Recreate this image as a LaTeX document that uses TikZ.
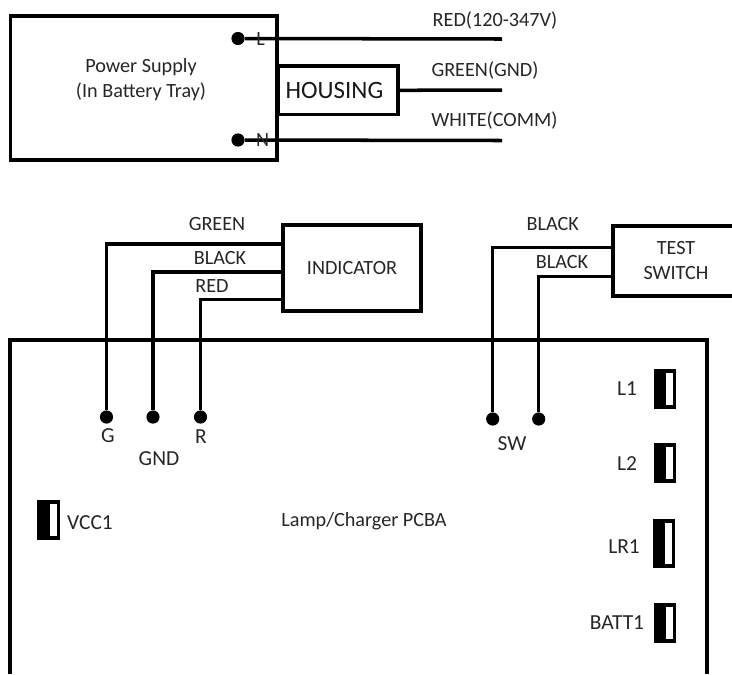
\documentclass[tikz,border=0pt]{standalone}
\usepackage{fontspec}
\setmainfont{Carlito}
\tikzset{
    box/.style={draw, line width=2.2pt, inner sep=0pt},
    wire/.style={line width=2pt},
    pad/.style={circle, fill=black, minimum size=7.5pt, inner sep=0pt},
    wire label/.style={font=\fontsize{11.5}{13.8}\selectfont, text=black!85, inner sep=0pt, align=center},
    pin label/.style={font=\fontsize{12.2}{14}\selectfont, text=black!85, inner sep=0pt},
}
\begin{document}
\begin{tikzpicture}[x=0.02cm, y=-0.02cm]
    \useasboundingbox (0,0) rectangle (732,674);

    % Power supply
    \node[box, minimum width=151.5pt, minimum height=82pt] (supply) at (143.6,88.3) {};
    \node[wire label] (supplytext) at (141,79.5) {Power Supply\\(In Battery Tray)};
    \node[box, font=\fontsize{14.2}{16}\selectfont, text=black!90, minimum width=68pt, minimum height=27.6pt] (housing) at (338,90.3) {HOUSING\kern4pt};

    % Mains wires
    \node[pad] (L) at (238,38.5) {};
    \node[pad] (N) at (238,140) {};
    \coordinate (redend) at (502,39);
    \coordinate (greenend) at (502,90);
    \coordinate (whiteend) at (502,140.5);
    \draw[wire] (L) -- (redend);
    \draw[wire] (N) -- (whiteend);
    \draw[wire] (housing.east) -- (greenend);
    \node[wire label] (Ltext) at (260.7,38.7) {L};
    \node[wire label] (Ntext) at (262.7,140) {N};
    \node[wire label] (redlabel) at (495,20.5) {RED(120-347V)};
    \node[wire label] (greenlabel) at (485,70.5) {GREEN(GND)};
    \node[wire label] (whitelabel) at (494.4,120.5) {WHITE(COMM)};

    % Indicator
    \node[box, wire label, minimum width=78.2pt, minimum height=48.6pt] (indicator) at (352,268) {INDICATOR};
    \node[pad] (G) at (106.5,417) {};
    \node[pad] (GND) at (153,417) {};
    \node[pad] (R) at (200.5,417) {};
    \draw[wire] (indicator.west |- 0,244) -| (G);
    \draw[wire] (indicator.west |- 0,272) -| (GND);
    \draw[wire] (indicator.west |- 0,299.5) -| (R);
    \node[wire label] (greenwire) at (217,224) {GREEN};
    \node[wire label] (blackwire) at (220,258) {BLACK};
    \node[wire label] (redwire) at (212,286) {RED};

    % Test switch
    \draw[line width=2.2pt] (732,226) -- (612.7,226) -- (612.7,296) -- (732,296);
    \node[wire label, minimum width=71.8pt] (switch) at (676,260.5) {TEST\\SWITCH};
    \node[pad] (SWa) at (492.7,419) {};
    \node[pad] (SWb) at (538.7,419) {};
    \draw[wire] (switch.west |- 0,247.5) -| (SWa);
    \draw[wire] (switch.west |- 0,276.5) -| (SWb);
    \node[wire label] (blacka) at (552.7,224) {BLACK};
    \node[wire label] (blackb) at (562,262) {BLACK};

    % Lamp board
    \draw[line width=2.2pt] (10,674) -- (10,340) -- (707,340) -- (707,674);
    \node[wire label] (pcba) at (364,521.7) {Lamp/Charger PCBA};
    \node[pin label] (Gtext) at (108,436) {G};
    \node[pin label] (GNDtext) at (159,459) {GND};
    \node[pin label] (Rtext) at (201,437) {R};
    \node[pin label] (SWtext) at (512,444) {SW};
    \node[pin label] (VCCtext) at (90,523) {VCC1};
    \node[pin label] (Lonetext) at (627,389) {L1};
    \node[pin label] (Ltwotext) at (627,464) {L2};
    \node[pin label] (LRtext) at (624,547) {LR1};
    \node[pin label] (BATTtext) at (617,623) {BATT1};

    % Headers
    \foreach \x/\y/\h in {37/499.5/40.5, 653.5/369/40, 653.5/443/40, 652.5/518.5/49.5, 653.5/603/40} {
        \fill[black] (\x,\y) rectangle (\x+22.5,\y+\h);
        \fill[white] (\x+12.5,\y+4) rectangle (\x+19.5,\y+\h-4);
    }
\end{tikzpicture}
\end{document}
